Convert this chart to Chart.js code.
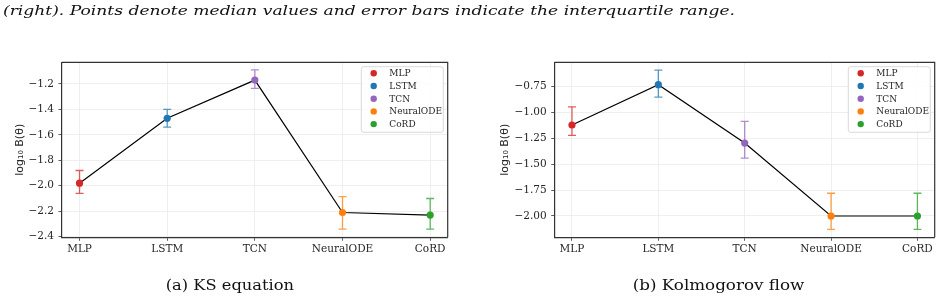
<!DOCTYPE html>
<html>
<head>
<meta charset="utf-8">
<script src="https://cdn.jsdelivr.net/npm/chart.js@4.4.1/dist/chart.umd.min.js"></script>
<style>
body{margin:0;width:942px;height:308px;background:#fff;position:relative;overflow:hidden}
.box{position:absolute}
#page{position:absolute;left:0;top:0}
</style>
</head>
<body>
<canvas id="page" width="942" height="308"></canvas>
<div class="box" style="left:0;top:50px;width:460px;height:215px"><canvas id="ksChart"></canvas></div>
<div class="box" style="left:470px;top:50px;width:472px;height:215px"><canvas id="kfChart"></canvas></div>

<script>
// models and their colours
const models = ["MLP", "LSTM", "TCN", "NeuralODE", "CoRD"];
const modelColors = ["#d62728", "#1f77b4", "#9467bd", "#ff7f0e", "#2ca02c"];

// (a) KS equation: median and interquartile range of log10 B(theta)
const ksMedian = [-1.98, -1.47, -1.17, -2.21, -2.23];
const ksLow = [-2.06, -1.54, -1.235, -2.34, -2.34];
const ksHigh = [-1.88, -1.40, -1.09, -2.085, -2.10];
const ksTicks = [-2.4, -2.2, -2.0, -1.8, -1.6, -1.4, -1.2];

// (b) Kolmogorov flow
const kfMedian = [-1.12, -0.73, -1.295, -2.00, -2.00];
const kfLow = [-1.22, -0.85, -1.44, -2.13, -2.13];
const kfHigh = [-0.945, -0.59, -1.085, -1.78, -1.78];
const kfTicks = [-2.0, -1.75, -1.5, -1.25, -1.0, -0.75];

const captionText = "(right). Points denote median values and error bars indicate the interquartile range.";
const subCaptions = ["(a) KS equation", "(b) Kolmogorov flow"];

const tickFont = {family: "DejaVu Serif", size: 10.5};
const tickColor = "#262626";
const spine = "#333333";

function alpha(hex, a){
  const n = parseInt(hex.slice(1), 16);
  return "rgba(" + (n >> 16) + "," + ((n >> 8) & 255) + "," + (n & 255) + "," + a + ")";
}

const errorBars = {
  id: "errorBars",
  beforeDatasetsDraw(chart, args, opts){
    const ctx = chart.ctx, xs = chart.scales.x, ys = chart.scales.y;
    ctx.save();
    ctx.lineWidth = 1.3;
    opts.low.forEach((lo, i) => {
      const x = xs.getPixelForValue(i);
      const y1 = ys.getPixelForValue(lo), y2 = ys.getPixelForValue(opts.high[i]);
      ctx.strokeStyle = alpha(modelColors[i], 0.75);
      ctx.beginPath();
      ctx.moveTo(x, y1); ctx.lineTo(x, y2);
      ctx.moveTo(x - 4, y1); ctx.lineTo(x + 4, y1);
      ctx.moveTo(x - 4, y2); ctx.lineTo(x + 4, y2);
      ctx.stroke();
    });
    ctx.restore();
  }
};

const frame = {
  id: "frame",
  afterDraw(chart){
    const ctx = chart.ctx, a = chart.chartArea;
    ctx.save();
    ctx.strokeStyle = spine;
    ctx.lineWidth = 1.2;
    ctx.beginPath();
    ctx.moveTo(a.left, a.top); ctx.lineTo(a.right, a.top); ctx.lineTo(a.right, a.bottom);
    ctx.stroke();
    ctx.restore();
  }
};

const legendBox = {
  id: "legendBox",
  afterDraw(chart){
    const ctx = chart.ctx, a = chart.chartArea;
    const w = 82, h = 65.6;
    const x = a.right - 4.4 - w, y = a.top + 4.4;
    ctx.save();
    ctx.beginPath();
    ctx.roundRect(x, y, w, h, 2.5);
    ctx.fillStyle = "rgba(255,255,255,0.85)";
    ctx.fill();
    ctx.strokeStyle = "#d0d0d0";
    ctx.lineWidth = 0.8;
    ctx.stroke();
    ctx.font = "9px 'DejaVu Serif'";
    ctx.textBaseline = "middle";
    models.forEach((m, i) => {
      const cy = y + 6.6 + i * 12.7;
      ctx.fillStyle = modelColors[i];
      ctx.beginPath();
      ctx.arc(x + 12.4, cy, 3.2, 0, Math.PI * 2);
      ctx.fill();
      ctx.fillStyle = tickColor;
      ctx.fillText(m, x + 28, cy + 0.5);
    });
    ctx.restore();
  }
};

function makeChart(id, median, low, high, yTicks, yMin, yMax, decimals, areaLeft, rightPad, titlePad){
  const pts = median.map((v, i) => ({x: i, y: v}));
  return new Chart(id, {
    type: "line",
    data: {
      datasets: [
        {data: pts, order: 1, showLine: false, pointRadius: 3.6, pointBorderWidth: 0,
         pointBackgroundColor: modelColors, pointBorderColor: modelColors},
        {data: pts, order: 2, borderColor: "#000", borderWidth: 1.2, pointRadius: 0, fill: false}
      ]
    },
    options: {
      responsive: true,
      maintainAspectRatio: false,
      animation: false,
      layout: {padding: {top: 12.3, right: rightPad, left: 0, bottom: 0}},
      plugins: {
        legend: {display: false},
        tooltip: {enabled: false},
        errorBars: {low: low, high: high}
      },
      scales: {
        x: {
          type: "linear", min: -0.2, max: 4.2,
          afterBuildTicks: s => { s.ticks = models.map((m, i) => ({value: i})); },
          afterFit: s => { s.height = 27.7; },
          ticks: {callback: v => models[v], font: tickFont, color: tickColor, padding: 2, maxRotation: 0, autoSkip: false},
          grid: {color: "#ebebeb", lineWidth: 0.8, tickColor: spine, tickLength: 3.5},
          border: {color: spine, width: 1.2}
        },
        y: {
          min: yMin, max: yMax,
          afterBuildTicks: s => { s.ticks = yTicks.map(v => ({value: v})); },
          afterFit: s => { s.width = areaLeft; },
          ticks: {callback: v => v.toFixed(decimals).replace("-", "\u2212"), font: tickFont, color: tickColor, padding: 4.5},
          grid: {color: "#ebebeb", lineWidth: 0.8, tickColor: spine, tickLength: 3.5},
          border: {color: spine, width: 1.2},
          title: {display: true, text: "log\u2081\u2080 B(\u03b8)", font: {family: "DejaVu Sans", size: 11}, color: tickColor, padding: {top: titlePad, bottom: 0}}
        }
      }
    },
    plugins: [errorBars, frame, legendBox]
  });
}

makeChart("ksChart", ksMedian, ksLow, ksHigh, ksTicks, -2.405, -1.03, 1, 62, 12.3, 13.4);
makeChart("kfChart", kfMedian, kfLow, kfHigh, kfTicks, -2.206, -0.514, 2, 84.7, 7.3, 28.4);

// figure caption text, stretched to the width of the LaTeX original
const pctx = document.getElementById("page").getContext("2d");
function stretchText(text, font, left, baseline, width, centered){
  pctx.save();
  pctx.font = font;
  pctx.fillStyle = "#111";
  pctx.textBaseline = "alphabetic";
  const w = pctx.measureText(text).width;
  pctx.translate(centered ? left - width / 2 : left, baseline);
  pctx.scale(width / w, 1);
  pctx.fillText(text, 0, 0);
  pctx.restore();
}
stretchText(captionText, "italic 13.5px 'DejaVu Serif'", 3, 15, 732, false);
stretchText(subCaptions[0], "15.5px 'DejaVu Serif'", 229.9, 290, 128.3, true);
stretchText(subCaptions[1], "15.5px 'DejaVu Serif'", 718.5, 290, 171.6, true);
</script>
</body>
</html>
